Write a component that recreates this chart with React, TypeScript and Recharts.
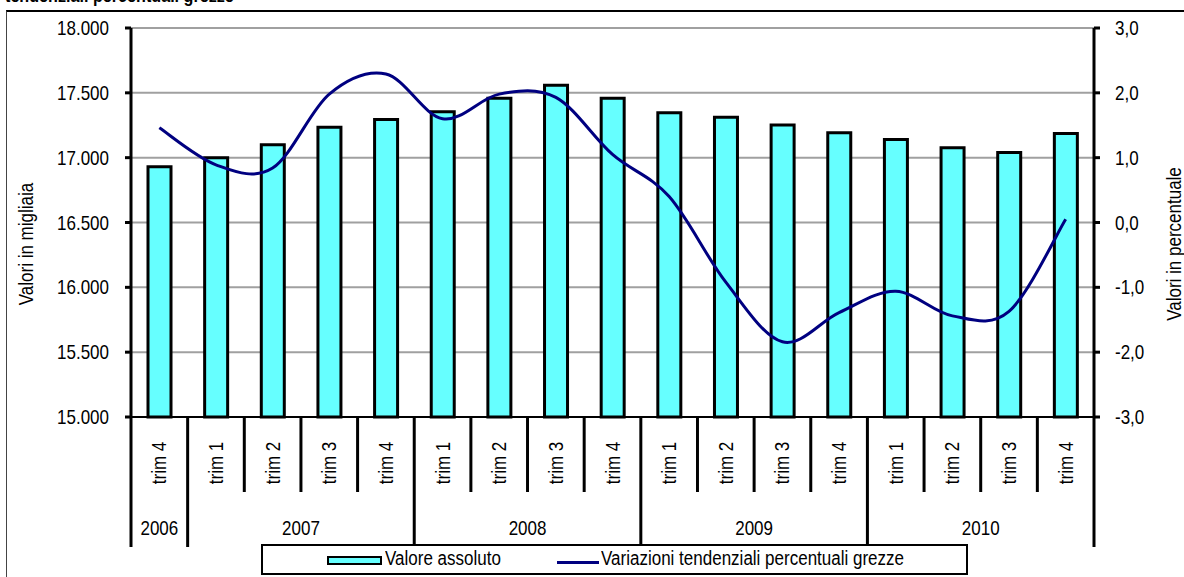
import React from "react"
import { ComposedChart, Bar, Line, XAxis, YAxis, CartesianGrid } from "recharts"

const trimestri = ["trim 4", "trim 1", "trim 2", "trim 3", "trim 4", "trim 1", "trim 2", "trim 3", "trim 4", "trim 1", "trim 2", "trim 3", "trim 4", "trim 1", "trim 2", "trim 3", "trim 4"]
const anni = ["2006", "2007", "2007", "2007", "2007", "2008", "2008", "2008", "2008", "2009", "2009", "2009", "2009", "2010", "2010", "2010", "2010"]
const valoreAssoluto = [16930, 17000, 17100, 17235, 17295, 17355, 17458, 17558, 17458, 17346, 17312, 17251, 17192, 17140, 17077, 17039, 17187]
const variazioni = [1.46, 0.89, 0.84, 1.98, 2.29, 1.6, 1.98, 1.93, 1.05, 0.4, -0.92, -1.84, -1.39, -1.06, -1.44, -1.37, 0.05]
const leftTicks = [15000, 15500, 16000, 16500, 17000, 17500, 18000]
const rightTicks = [-3, -2, -1, 0, 1, 2, 3]

const data = trimestri.map((t, i) => ({
  key: `${anni[i]}-${i}`,
  trim: t,
  anno: anni[i],
  valore: valoreAssoluto[i],
  variazione: variazioni[i],
}))

// no Arial Narrow available: squeeze Liberation Sans horizontally
const FONT = "'Liberation Sans', Arial, sans-serif"
const SX = 0.85
const FS = 20
const CYAN = "#66ffff"
const NAVY = "#000080"

// excel style smoothed line (catmull-rom)
function excelCurve(context: any) {
  let pts: number[][] = []
  return {
    areaStart() {},
    areaEnd() {},
    lineStart() {
      pts = []
    },
    point(x: number, y: number) {
      pts.push([+x, +y])
    },
    lineEnd() {
      if (!pts.length) return
      context.moveTo(pts[0][0], pts[0][1])
      for (let i = 0; i < pts.length - 1; i++) {
        const p0 = pts[i - 1] || pts[i]
        const p1 = pts[i]
        const p2 = pts[i + 1]
        const p3 = pts[i + 2] || p2
        context.bezierCurveTo(
          p1[0] + (p2[0] - p0[0]) / 6,
          p1[1] + (p2[1] - p0[1]) / 6,
          p2[0] - (p3[0] - p1[0]) / 6,
          p2[1] - (p3[1] - p1[1]) / 6,
          p2[0],
          p2[1]
        )
      }
    },
  }
}

const fmtLeft = (v: number) => String(v).replace(/\B(?=(\d{3})+(?!\d))/g, ".")
const fmtRight = (v: number) => v.toFixed(1).replace(".", ",")

function NText({ x, y, angle = 0, anchor = "middle", children }: any) {
  return (
    <text
      transform={`translate(${x} ${y}) rotate(${angle}) scale(${SX} 1)`}
      textAnchor={anchor}
      dominantBaseline="central"
      fontFamily={FONT}
      fontSize={FS}
      fill="#000"
    >
      {children}
    </text>
  )
}

function LeftTick(props: any) {
  const { x, y, payload } = props
  return <NText x={x} y={y} anchor="end">{fmtLeft(payload.value)}</NText>
}

function RightTick(props: any) {
  const { x, y, payload } = props
  return <NText x={x} y={y} anchor="start">{fmtRight(payload.value)}</NText>
}

function CategoryTick(props: any) {
  const { x, y, payload, index } = props
  const half = payload && payload.offset ? payload.offset : 963 / 17 / 2
  const i = index as number
  const yearStart = i === 0 || anni[i] !== anni[i - 1]
  const last = i === anni.length - 1
  let count = 0
  if (yearStart) {
    while (i + count < anni.length && anni[i + count] === anni[i]) count++
  }
  return (
    <g>
      <line x1={x - half} x2={x - half} y1={y} y2={yearStart ? y + 130 : y + 75} stroke="#000" strokeWidth={3} />
      {last && <line x1={x + half} x2={x + half} y1={y} y2={y + 130} stroke="#000" strokeWidth={3} />}
      <NText x={x} y={y + 46} angle={-90}>{trimestri[i]}</NText>
      {yearStart && <NText x={x + (count - 1) * half} y={y + 111}>{anni[i]}</NText>}
    </g>
  )
}

function AxisTitle(props: any) {
  const { viewBox, value, dx } = props
  return (
    <NText x={viewBox.x + dx} y={244} angle={-90}>
      {value}
    </NText>
  )
}

const narrow: React.CSSProperties = {
  display: "inline-block",
  transform: `scaleX(${SX})`,
  transformOrigin: "left center",
  whiteSpace: "nowrap",
}

export default function App() {
  return (
    <div style={{ position: "absolute", left: 0, top: 0, width: 1184, height: 577, overflow: "hidden", background: "#fff" }}>
      <div style={{ position: "absolute", left: 5, top: -15, fontFamily: FONT, fontWeight: "bold", fontSize: 19 }}>
        <span style={narrow}>tendenziali percentuali grezze</span>
      </div>
      <div style={{ position: "absolute", left: 6, top: 10, width: 1200, height: 600, borderLeft: "1px solid #444", borderTop: "2px solid #000" }} />
      <div style={{ position: "absolute", left: 0, top: 0 }}>
        <ComposedChart width={1184} height={577} data={data} margin={{ top: 28, right: 0, bottom: 0, left: 0 }} barSize={23}>
          <CartesianGrid yAxisId="left" vertical={false} stroke="#a0a0a0" strokeWidth={2} />
          <XAxis
            dataKey="key"
            height={160}
            interval={0}
            tickSize={0}
            tickMargin={0}
            tickLine={false}
            axisLine={{ stroke: "#000", strokeWidth: 2 }}
            tick={<CategoryTick />}
          />
          <YAxis
            yAxisId="left"
            width={131}
            domain={[15000, 18000]}
            ticks={leftTicks}
            tickSize={6}
            tickMargin={16}
            axisLine={{ stroke: "#000", strokeWidth: 3 }}
            tickLine={{ stroke: "#000", strokeWidth: 3 }}
            tick={<LeftTick />}
            label={<AxisTitle value="Valori in migliaia" dx={26} />}
          />
          <YAxis
            yAxisId="right"
            orientation="right"
            width={90}
            domain={[-3, 3]}
            ticks={rightTicks}
            tickSize={6}
            tickMargin={15}
            axisLine={{ stroke: "#000", strokeWidth: 3 }}
            tickLine={{ stroke: "#000", strokeWidth: 3 }}
            tick={<RightTick />}
            label={<AxisTitle value="Valori in percentuale" dx={80} />}
          />
          <Bar yAxisId="left" dataKey="valore" fill={CYAN} stroke="#000" strokeWidth={3} isAnimationActive={false} />
          <Line yAxisId="right" dataKey="variazione" type={excelCurve as any} stroke={NAVY} strokeWidth={3} dot={false} activeDot={false} isAnimationActive={false} />
        </ComposedChart>
      </div>
      <div
        style={{
          position: "absolute",
          left: 261,
          top: 544,
          width: 703,
          height: 27,
          border: "2px solid #000",
          background: "#fff",
          fontFamily: FONT,
          fontSize: FS,
        }}
      >
        <div style={{ position: "absolute", left: 64, top: 10, width: 51, height: 5, background: CYAN, border: "2px solid #000" }} />
        <div style={{ position: "absolute", left: 122, top: 1 }}>
          <span style={narrow}>Valore assoluto</span>
        </div>
        <div style={{ position: "absolute", left: 294, top: 15, width: 42, height: 3, background: NAVY }} />
        <div style={{ position: "absolute", left: 338, top: 1 }}>
          <span style={narrow}>Variazioni tendenziali percentuali grezze</span>
        </div>
      </div>
    </div>
  )
}
